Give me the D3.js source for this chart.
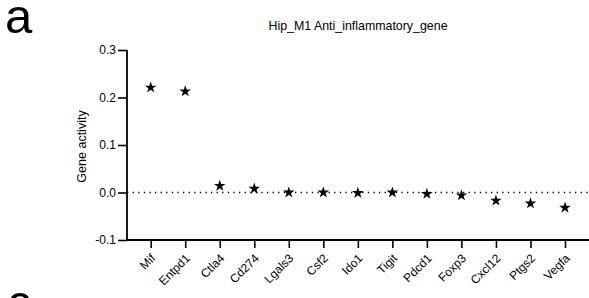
<!DOCTYPE html>
<html>
<head>
<meta charset="utf-8">
<script src="https://cdn.jsdelivr.net/npm/d3@7"></script>
<style>
  html, body { margin: 0; padding: 0; background: #fff; }
  svg { display: block; font-family: "Liberation Sans", Arial, sans-serif; }
</style>
</head>
<body>
<div id="chart"></div>
<script>
// Chart data
const genes = ["Mif", "Entpd1", "Ctla4", "Cd274", "Lgals3", "Csf2", "Ido1",
  "Tigit", "Pdcd1", "Foxp3", "Cxcl12", "Ptgs2", "Vegfa"];
const activity = [0.221, 0.213, 0.014, 0.008, 0.0, 0.0, -0.001,
  0.0, -0.003, -0.006, -0.017, -0.023, -0.032];
const yTicks = [-0.1, 0.0, 0.1, 0.2, 0.3];

const width = 589, height = 298;
const axisLeftX = 127, axisRightX = 589;

const svg = d3.select("#chart").append("svg")
  .attr("width", width)
  .attr("height", height);

// Scales
const x = d3.scalePoint()
  .domain(genes)
  .range([150.7, 565]);

const y = d3.scaleLinear()
  .domain([-0.1, 0.3])
  .range([240, 50]);

// Panel letters
svg.append("text")
  .attr("x", 5).attr("y", 33)
  .attr("font-size", 49)
  .text("a");
svg.append("text")
  .attr("x", 7).attr("y", 319)
  .attr("font-size", 49)
  .text("c");

// Title
svg.append("text")
  .attr("x", 358).attr("y", 29.5)
  .attr("text-anchor", "middle")
  .attr("font-size", 12.4)
  .text("Hip_M1 Anti_inflammatory_gene");

// Zero line (dotted)
svg.append("line")
  .attr("x1", axisLeftX).attr("x2", axisRightX)
  .attr("y1", y(0)).attr("y2", y(0))
  .attr("stroke", "#000")
  .attr("stroke-width", 1.3)
  .attr("stroke-dasharray", "1.3,4.3");

// Y axis
const yAxis = d3.axisLeft(y)
  .tickValues(yTicks)
  .tickFormat(d => d.toFixed(1))
  .tickSize(9)
  .tickPadding(2);

const gy = svg.append("g")
  .attr("transform", `translate(${axisLeftX},0)`)
  .call(yAxis);
gy.select(".domain").remove();
gy.append("line")
  .attr("x1", 0).attr("x2", 0)
  .attr("y1", y(0.3)).attr("y2", y(-0.1) + 1)
  .attr("stroke", "#000").attr("stroke-width", 1.8);
gy.selectAll(".tick line").attr("stroke-width", 1.6);
gy.selectAll(".tick text")
  .attr("font-size", 12)
  .attr("fill", "#000")
  .attr("font-family", "Liberation Sans, Arial, sans-serif");

// X axis
const xAxis = d3.axisBottom(x)
  .tickSize(8)
  .tickPadding(3);

const gx = svg.append("g")
  .attr("transform", `translate(0,${y(-0.1)})`)
  .call(xAxis);
gx.select(".domain").remove();
gx.append("line")
  .attr("x1", axisLeftX - 1).attr("x2", axisRightX)
  .attr("y1", 0).attr("y2", 0)
  .attr("stroke", "#000").attr("stroke-width", 1.8);
gx.selectAll(".tick line").attr("stroke-width", 1.6);
gx.selectAll(".tick text")
  .attr("font-size", 12)
  .attr("fill", "#000")
  .attr("font-family", "Liberation Sans, Arial, sans-serif")
  .attr("text-anchor", "end")
  .attr("x", 0).attr("y", 0)
  .attr("dy", "0.35em")
  .attr("transform", "translate(2,16) rotate(-45)");

// Y axis title
svg.append("text")
  .attr("transform", `translate(86,146.5) rotate(-90)`)
  .attr("text-anchor", "middle")
  .attr("font-size", 12.5)
  .text("Gene activity");

// Star markers
const star = d3.symbol().type(d3.symbolStar).size(42);
svg.append("g")
  .selectAll("path")
  .data(genes)
  .join("path")
  .attr("d", star)
  .attr("fill", "#000")
  .attr("transform", (g, i) => `translate(${x(g)},${y(activity[i])})`);
</script>
</body>
</html>
